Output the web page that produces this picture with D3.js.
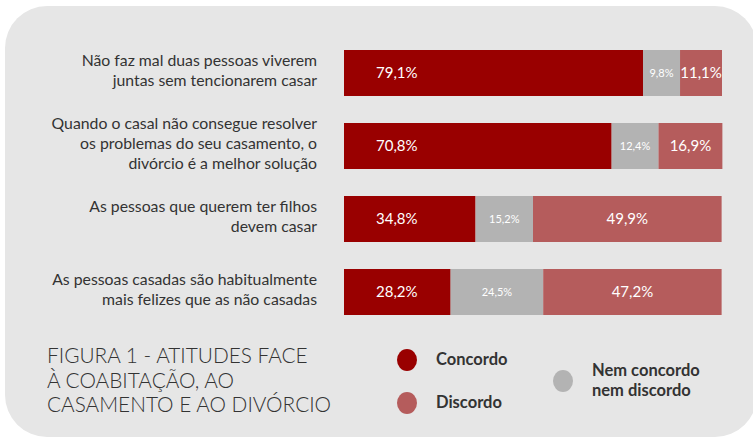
<!DOCTYPE html>
<meta charset="utf-8">
<head>
	<title>Atitudes face à coabitação</title>
	<script src="https://cdn.jsdelivr.net/npm/d3@7"></script>
	<style>
		body { margin: 0; background: #fff; }
		text { font-family: Lato, "Open Sans", sans-serif; }
		.lbl { fill: #333; font-size: 15.8px; }
		.val { fill: #fff; }
	</style>
</head>
<body>
	<div id="chart"></div>
	<script>
		// data
		var categories = [
			["Não faz mal duas pessoas viverem", "juntas sem tencionarem casar"],
			["Quando o casal não consegue resolver", "os problemas do seu casamento, o", "divórcio é a melhor solução"],
			["As pessoas que querem ter filhos", "devem casar"],
			["As pessoas casadas são habitualmente", "mais felizes que as não casadas"]
		];
		var concordo = [79.1, 70.8, 34.8, 28.2];
		var nem = [9.8, 12.4, 15.2, 24.5];
		var discordo = [11.1, 16.9, 49.9, 47.2];
		var seriesNames = ["Concordo", "Nem concordo nem discordo", "Discordo"];
		var colors = ["#990000", "#b3b3b3", "#b55c5c"];
		var titleLines = ["FIGURA 1 -  ATITUDES FACE", "À COABITAÇÃO, AO", "CASAMENTO E AO DIVÓRCIO"];

		var width = 753, height = 440;
		var svg = d3.select("#chart").append("svg")
			.attr("width", width).attr("height", height);

		// panel
		svg.append("rect")
			.attr("x", 5).attr("y", 6)
			.attr("width", 752).attr("height", 431)
			.attr("rx", 42).attr("ry", 42)
			.attr("fill", "#e6e6e6");

		var x = d3.scaleLinear().domain([0, 100]).range([344, 722]);
		var y = d3.scaleBand().domain(d3.range(4)).range([50, 315]).paddingInner(0.37).paddingOuter(0);

		var rows = categories.map(function(c, i) {
			return {i: i, vals: [concordo[i], nem[i], discordo[i]]};
		});

		var fmt = function(v) { return v.toFixed(1).replace(".", ","); };

		rows.forEach(function(r) {
			var g = svg.append("g");
			var start = 0;
			r.vals.forEach(function(v, k) {
				var x0 = x(start), x1 = x(start + v);
				g.append("rect")
					.attr("x", x0).attr("y", y(r.i))
					.attr("width", x1 - x0).attr("height", y.bandwidth())
					.attr("fill", colors[k]);
				var cy = y(r.i) + y.bandwidth() / 2;
				var t = g.append("text")
					.attr("class", "val")
					.attr("y", cy)
					.attr("dy", "0.36em")
					.text(fmt(v) + "%");
				if (k == 0) {
					t.attr("x", x(0) + 32).attr("font-size", "15px");
				} else if (k == 1) {
					t.attr("x", (x0 + x1) / 2).attr("text-anchor", "middle").attr("font-size", "11px");
				} else {
					t.attr("x", (x0 + x1) / 2).attr("text-anchor", "middle").attr("font-size", "15px");
				}
				start += v;
			});

			// category label
			var lines = categories[r.i];
			var cy = y(r.i) + y.bandwidth() / 2 - 3;
			var lt = svg.append("text").attr("class", "lbl").attr("text-anchor", "end");
			lines.forEach(function(l, j) {
				lt.append("tspan")
					.attr("x", 317)
					.attr("y", cy + (j - (lines.length - 1) / 2) * 20)
					.attr("dy", "0.36em")
					.text(l);
			});
		});

		// title
		var tt = svg.append("text").attr("fill", "#333").attr("font-size", "20.8px").attr("font-weight", 300);
		titleLines.forEach(function(l, j) {
			tt.append("tspan").attr("x", 47).attr("y", 356 + j * 24.5).attr("dy", "0.36em").text(l);
		});

		// legend
		var legend = [
			{name: seriesNames[0], lines: ["Concordo"], cx: 407, cy: 360, color: colors[0]},
			{name: seriesNames[2], lines: ["Discordo"], cx: 407, cy: 403, color: colors[2]},
			{name: seriesNames[1], lines: ["Nem concordo", "nem discordo"], cx: 563, cy: 381, color: colors[1]}
		];
		legend.forEach(function(d) {
			svg.append("ellipse")
				.attr("cx", d.cx).attr("cy", d.cy)
				.attr("rx", 10).attr("ry", 11)
				.attr("fill", d.color);
			var t = svg.append("text").attr("fill", "#333").attr("font-size", "16.5px").attr("font-weight", "bold");
			d.lines.forEach(function(l, j) {
				t.append("tspan")
					.attr("x", d.cx + 29)
					.attr("y", d.cy - 1 + (j - (d.lines.length - 1) / 2) * 20)
					.attr("dy", "0.36em")
					.text(l);
			});
		});
	</script>
</body>
